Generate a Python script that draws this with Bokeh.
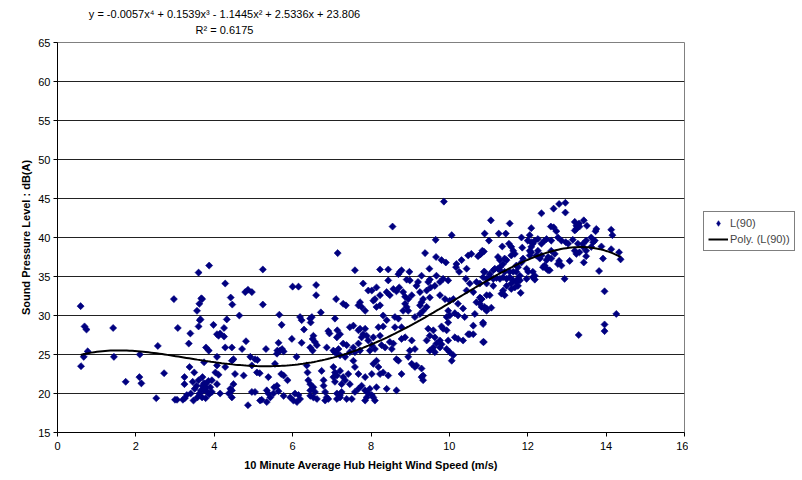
from bokeh.plotting import figure
from bokeh.layouts import row, column
from bokeh.models import Range1d, SingleIntervalTicker, Label, Legend, LegendItem, ColumnDataSource
from bokeh.embed import file_html
from bokeh.resources import INLINE
import numpy as np

# ---- data: (wind speed m/s, L90 dB(A)) ----
l90_points = [
    (0.59,31.2),(0.69,28.6),(0.74,28.2),(0.77,25.4),(0.67,24.7),(0.60,23.5),
    (1.42,28.4),(1.44,24.7),(1.74,21.5),(2.09,22.1),(2.14,21.3),(2.10,25.0),
    (2.56,26.1),(2.72,22.6),(2.52,19.4),(2.97,32.1),(3.07,28.4),
    (3.00,19.2),(3.05,19.2),(3.20,19.2),(3.25,19.4),(3.30,19.8),
    (3.39,27.7),(3.35,26.4),(3.60,35.5),(3.87,36.4),
    (3.67,32.2),(3.62,31.5),(3.56,30.6),(3.65,29.5),(3.63,29.4),(3.60,28.6),
    (3.79,25.9),(3.86,25.5),(3.74,24.0),(3.37,23.4),(3.49,22.7),(3.24,22.1),(3.24,21.2),
    (3.47,19.1),(3.57,19.5),(3.62,20.0),(3.66,20.4),(3.70,21.0),(3.74,21.3),(3.79,20.8),
    (3.83,20.2),(3.87,19.9),(3.60,21.7),(3.70,22.1),(3.78,19.4),(3.50,20.6),(3.55,21.0),
    (3.85,21.6),(3.40,20.0),(3.45,21.5),(3.69,32.1),(3.77,21.2),(3.73,20.4),(3.69,19.5),
    (3.98,28.8),(4.07,27.6),(4.11,27.4),(4.15,27.7),(4.25,28.4),(4.25,27.3),(4.28,34.1),
    (4.32,29.5),(4.42,32.3),(4.46,31.4),(4.64,30.0),(4.79,33.0),(4.86,33.3),(4.96,33.0),
    (5.24,35.9),(5.24,31.4),(4.07,24.7),(4.07,23.6),(4.03,22.7),(4.11,22.4),(4.07,21.2),
    (3.94,21.7),(3.90,20.8),(3.94,20.2),(4.28,25.9),(4.28,23.4),(4.45,25.9),(4.45,24.2),
    (4.49,24.4),(4.53,22.5),(4.15,20.0),(4.41,20.6),(4.45,20.4),(4.49,21.2),(4.45,19.5),
    (4.37,20.0),(4.75,22.3),(4.71,25.7),(4.81,26.7),(4.92,24.7),(5.04,24.4),(5.10,24.3),
    (4.96,23.6),(5.09,22.7),(5.16,22.6),(4.86,18.5),(4.96,20.2),(5.04,20.2),(5.17,19.1),
    (5.21,19.2),(5.34,18.9),(5.38,20.0),(5.43,19.5),(5.34,20.4),(5.32,25.7),(5.38,22.1),
    (5.53,20.8),(5.60,21.0),(5.64,20.3),(5.51,20.0),(5.55,23.8),(5.60,25.1),(5.61,25.5),
    (5.68,25.5),(5.73,25.7),(5.77,25.4),(5.64,26.5),(5.66,30.1),(5.72,28.8),(5.71,22.5),
    (5.77,22.3),(5.87,21.7),(5.77,19.7),(5.94,19.5),(6.02,19.1),(6.06,20.0),(6.15,19.8),
    (6.19,19.3),(6.11,18.9),(5.98,27.0),(6.00,33.7),(6.15,33.7),(6.10,24.7),(6.19,29.8),
    (6.23,29.4),(6.23,26.5),(6.29,28.2),(6.36,23.6),(6.38,22.7),(6.40,21.7),(6.45,21.2),
    (6.45,20.4),(6.45,19.7),(6.53,20.8),(6.57,20.2),(6.53,19.5),(6.62,19.3),(6.45,29.6),
    (6.49,29.8),(6.46,29.1),(6.53,27.4),(6.51,27.0),(6.45,25.9),(6.51,25.5),(6.57,26.6),
    (6.62,26.2),(6.60,33.9),(6.60,32.6),(6.72,30.4),(6.74,22.9),(6.79,21.7),(6.79,21.0),
    (6.83,20.2),(6.87,19.5),(6.91,19.3),(6.83,19.1),(6.87,25.9),(6.94,27.7),(6.91,28.0),
    (7.08,29.6),(7.11,32.1),(7.15,38.0),(7.13,27.2),(7.14,28.1),(7.04,25.5),(7.08,25.3),
    (7.13,25.1),(7.17,25.7),(7.21,24.9),(7.04,23.4),(7.08,22.7),(7.04,22.1),(7.08,21.5),
    (7.13,22.3),(7.13,20.0),(7.13,19.3),(7.21,19.8),(7.25,20.2),
    (8.55,41.4),(9.65,39.7),(10.06,40.3),(9.86,44.6),
    (9.38,38.0),(9.66,37.5),(9.80,37.1),(9.91,36.8),(10.18,36.6),(10.17,36.2),(10.31,37.1),
    (10.48,37.7),(10.56,37.9),(10.73,37.6),(10.82,38.0),(10.88,38.2),(9.49,36.0),(10.44,36.0),
    (10.25,35.6),(7.59,35.8),(8.23,35.9),(8.44,35.9),(8.70,35.3),(8.74,35.6),(8.78,35.8),
    (8.98,35.6),(9.29,35.1),(9.67,35.1),(10.88,35.6),(7.80,34.1),(8.44,34.5),(8.91,34.6),
    (8.99,34.5),(9.20,34.3),(9.16,33.8),(9.46,34.3),(9.50,34.6),(9.76,34.3),(9.84,34.7),
    (9.97,34.5),(9.52,33.6),(9.42,33.2),(9.63,33.8),(10.42,34.7),(10.52,34.1),(10.69,34.3),
    (10.95,34.1),(7.93,33.2),(8.02,33.2),(8.14,33.6),(8.23,32.6),(8.06,31.9),(8.10,32.1),
    (8.40,33.0),(8.48,32.6),(8.57,33.4),(8.65,33.1),(8.72,33.6),(8.82,33.0),(8.87,32.4),
    (8.95,32.1),(9.04,32.6),(9.25,33.0),(9.33,32.1),(9.50,32.3),(9.29,31.7),(9.76,32.6),
    (9.89,32.1),(10.01,31.9),(10.10,32.1),(10.22,31.5),(10.44,33.2),(10.61,33.0),(10.78,32.3),
    (10.82,32.1),(10.69,31.7),(10.90,31.1),(10.95,30.9),(7.72,31.7),(7.68,31.3),(7.76,31.1),
    (7.85,30.6),(7.29,31.5),(7.36,31.3),(8.23,31.3),(8.14,31.1),(8.87,31.5),(8.91,31.1),
    (8.82,30.6),(8.95,30.6),(9.25,31.3),(9.33,30.6),(9.42,31.1),(8.31,30.0),(8.61,29.8),
    (8.70,29.6),(8.40,29.4),(8.19,28.5),(8.31,28.6),(9.25,30.2),(9.12,29.8),(8.78,28.5),
    (8.61,28.5),(9.93,29.8),(10.01,30.0),(9.97,30.6),(10.14,30.3),(10.22,30.0),(10.35,30.9),
    (10.39,29.8),(10.65,30.2),(10.86,29.1),(9.46,28.3),(9.59,28.1),(9.84,28.3),(9.93,28.1),
    (9.97,29.1),(9.80,28.6),(10.52,27.6),(10.61,27.6),(10.61,28.7),(7.46,28.5),(7.55,28.7),
    (7.72,28.3),(7.85,28.3),(7.68,28.1),(7.80,27.6),(7.89,27.4),(7.76,27.2),(7.93,26.8),
    (8.02,26.2),(8.06,27.2),(8.10,25.7),(7.97,25.5),(8.27,26.2),(8.36,25.9),(8.23,27.4),
    (8.48,26.6),(8.53,25.7),(8.57,26.4),(8.78,27.0),(8.87,27.2),(9.04,26.8),(8.99,25.5),
    (9.12,25.7),(7.21,27.6),(7.29,26.4),(7.38,26.2),(7.55,25.9),(7.68,26.4),(7.46,25.3),
    (7.59,25.3),(7.72,25.5),(9.42,26.8),(9.50,27.4),(9.63,27.2),(9.67,26.4),(9.59,25.9),
    (9.50,25.5),(9.63,25.3),(9.76,25.9),(9.80,26.3),(9.76,26.8),(9.93,25.7),(10.01,25.3),
    (9.97,26.8),(10.22,27.0),(10.14,27.2),(10.35,26.8),(10.48,27.6),(10.86,26.6),
    (7.34,24.7),(7.55,24.2),(7.42,22.5),(7.59,23.4),(7.68,22.5),(7.85,22.1),(8.02,22.5),
    (8.06,23.8),(8.14,24.2),(8.19,23.4),(8.23,22.5),(8.31,22.7),(8.44,22.3),(8.65,24.4),
    (8.70,24.2),(8.78,22.5),(8.95,24.7),(9.04,23.8),(9.12,23.4),(9.16,23.6),(9.29,23.2),
    (9.29,22.1),(9.33,21.7),(9.33,22.3),(10.10,24.9),(10.06,24.2),(7.21,22.9),(7.29,22.1),
    (7.34,21.7),(7.21,19.5),(7.38,19.3),(7.51,19.3),(7.59,20.2),(7.68,20.6),(7.76,21.0),
    (7.85,20.4),(7.89,19.5),(7.85,19.1),(7.93,20.0),(8.02,19.8),(8.06,19.5),(8.10,19.1),
    (7.97,20.6),(8.14,20.8),(8.40,20.6),(8.65,20.4),(7.25,21.2),(7.46,21.2),
    (11.06,42.2),(10.90,40.5),(11.01,39.6),(11.26,40.5),(11.44,40.5),(11.54,41.8),(12.35,43.1),
    (12.66,43.7),(12.80,44.3),(12.96,44.45),(12.96,43.2),(12.59,41.4),(12.66,41.3),(12.73,40.8),
    (12.09,41.2),(11.84,40.0),(12.05,40.3),(10.84,38.3),(10.78,37.8),(11.35,38.85),(11.52,39.2),
    (11.58,38.8),(11.63,38.3),(11.58,37.7),(11.67,37.9),(11.86,38.7),(12.00,39.6),(12.09,39.4),
    (12.13,39.2),(12.05,38.3),(12.09,38.8),(12.26,39.8),(12.18,39.6),(12.43,39.6),(12.35,39.2),
    (12.48,39.8),(12.60,39.6),(12.77,40.0),(12.86,39.6),(12.97,39.4),(13.03,39.2),(13.20,42.0),
    (13.24,41.5),(13.31,41.8),(13.24,41.1),(13.20,40.9),(13.43,42.2),(13.51,41.5),(13.32,41.4),
    (13.15,39.7),(13.28,39.2),(13.41,39.2),(13.49,39.6),(13.62,40.0),(13.71,39.6),(13.67,39.4),
    (13.75,41.1),(13.73,40.8),(14.13,41.0),(14.16,40.3),(13.20,38.3),(13.24,37.9),(13.32,38.1),
    (13.41,38.8),(13.49,38.3),(13.62,38.8),(13.88,38.85),(14.13,38.5),(14.33,38.1),(14.37,37.2),
    (13.92,37.3),(13.49,37.6),(13.43,36.8),(13.82,35.7),(12.94,34.7),(13.07,37.0),(12.80,37.0),
    (12.77,36.6),(12.86,36.4),(12.60,38.3),(12.69,37.9),(12.52,37.5),(12.60,37.3),(12.48,37.1),
    (12.43,36.4),(12.39,36.2),(12.48,36.0),(12.52,35.8),(12.31,37.3),(12.35,37.7),(12.13,35.6),
    (12.18,35.1),(11.97,36.0),(12.01,35.6),(11.75,36.2),(11.71,35.6),(11.80,35.1),(11.41,35.6),
    (11.29,36.2),(11.24,36.0),(11.37,36.6),(11.16,36.0),(11.12,35.8),(11.03,35.3),(10.90,35.6),
    (11.29,37.1),(11.24,37.5),(11.46,37.1),(11.41,37.3),(11.88,37.3),(12.05,37.7),(12.09,38.1),
    (12.22,37.7),(12.26,38.3),(11.84,36.8),(11.71,36.4),(11.54,35.6),(11.63,35.6),(11.75,34.7),
    (11.97,34.7),(12.13,34.9),(12.18,34.6),(12.56,35.8),(11.29,35.8),
    (10.78,34.1),(10.86,34.9),(10.95,34.7),(11.03,34.9),(11.12,34.7),(11.20,34.8),(11.29,34.7),
    (11.37,34.9),(11.46,34.7),(11.54,34.9),(11.58,34.1),(11.63,34.5),(11.71,34.3),(11.80,34.5),
    (11.75,33.8),(11.67,33.6),(11.58,33.4),(11.37,33.2),(11.41,32.6),(11.33,32.8),(11.46,33.8),
    (11.12,33.8),(11.03,32.6),(10.95,32.6),(10.82,32.1),(10.78,31.5),(10.82,31.1),(10.90,30.9),
    (10.95,30.6),(11.07,31.0),(11.82,32.9),(13.96,33.1),(14.26,30.2),(10.86,28.9),(13.96,28.85),
    (13.96,28.0),(13.30,27.5),(10.88,26.6),
]
wind_speed = [p[0] for p in l90_points]
l90_db = [p[1] for p in l90_points]

# 4th-order polynomial trendline coefficients as printed on the chart (x^4 .. x^0)
trend_coeffs = [-0.0057, 0.1539, -1.1445, 2.5336, 23.806]
trend_label = "y = -0.0057x\u2074 + 0.1539x\u00b3 - 1.1445x\u00b2 + 2.5336x + 23.806"
r2_label = "R\u00b2 = 0.6175"
series_labels = ["L(90)", "Poly. (L(90))"]

x_ticks_interval = 2
y_ticks_interval = 5

FONT = "Liberation Sans"
FS = "11px"
MARK = "#000080"

# ---- strip above the plot carrying the trendline equation ----
top = figure(width=798, height=36, output_backend="svg", toolbar_location=None,
             x_axis_type=None, y_axis_type=None, min_border=0,
             x_range=Range1d(0, 798), y_range=Range1d(0, 36))
top.outline_line_color = None
top.grid.visible = False
top.add_layout(Label(x=224, y=22.5, text=trend_label, text_align="center", text_baseline="middle",
                     text_font=FONT, text_font_size=FS, text_color="black"))
top.add_layout(Label(x=224, y=7, text=r2_label, text_align="center", text_baseline="middle",
                     text_font=FONT, text_font_size=FS, text_color="black"))

# ---- main scatter plot ----
p = figure(frame_width=627, frame_height=390, output_backend="svg", toolbar_location=None,
           x_range=Range1d(0, 16), y_range=Range1d(15, 65),
           min_border_left=57, min_border_right=4, min_border_top=6, min_border_bottom=44)
p.background_fill_color = "white"
p.border_fill_color = "white"
p.outline_line_color = "#808080"
p.outline_line_width = 1

p.xaxis.ticker = SingleIntervalTicker(interval=x_ticks_interval)
p.yaxis.ticker = SingleIntervalTicker(interval=y_ticks_interval)
p.xgrid.visible = False
p.ygrid.ticker = SingleIntervalTicker(interval=y_ticks_interval)
p.ygrid.grid_line_color = "#222222"
p.ygrid.grid_line_width = 1

for ax in (p.xaxis[0], p.yaxis[0]):
    ax.axis_line_color = "black"
    ax.major_tick_line_color = "black"
    ax.minor_tick_line_color = None
    ax.major_tick_in = 0
    ax.major_tick_out = 4
    ax.major_label_text_font = FONT
    ax.major_label_text_font_size = FS
    ax.major_label_text_color = "black"
    ax.axis_label_text_font = FONT
    ax.axis_label_text_font_size = FS
    ax.axis_label_text_font_style = "bold"
    ax.axis_label_text_color = "black"

p.xaxis.axis_label = "10 Minute Average Hub Height Wind Speed (m/s)"
p.yaxis.axis_label = "Sound Pressure Level : dB(A)"
p.xaxis.major_label_standoff = 5
p.xaxis.axis_label_standoff = 6
p.yaxis.major_label_standoff = 3
p.yaxis.axis_label_standoff = 3

src = ColumnDataSource(dict(x=wind_speed, y=l90_db))
pts = p.scatter("x", "y", source=src, marker="square", angle=np.pi / 4, size=5,
                fill_color=MARK, line_color=MARK, line_width=0.6)

xs = np.linspace(min(wind_speed), max(wind_speed), 200)
ys = np.polyval(trend_coeffs, xs)
trend = p.line(xs, ys, line_color="black", line_width=2)

# ---- legend panel to the right of the plot area ----
lf = figure(width=110, height=440, output_backend="svg", toolbar_location=None,
            x_axis_type=None, y_axis_type=None, min_border=0,
            x_range=Range1d(0, 1), y_range=Range1d(0, 1))
lf.outline_line_color = None
lf.grid.visible = False
lf.background_fill_color = "white"
lf.border_fill_color = "white"
# legend sample glyphs (kept outside the visible range, only their legend swatches show)
lg_pts = lf.scatter(x=[-5], y=[-5], marker="diamond", size=9,
                    fill_color=MARK, line_color=MARK, line_width=0.6)
lg_line = lf.line(x=[-5, -4], y=[-5, -4], line_color="black", line_width=2)

legend = Legend(items=[LegendItem(label=series_labels[0], renderers=[lg_pts]),
                       LegendItem(label=series_labels[1], renderers=[lg_line])],
                location=(15, 181))
legend.border_line_color = "black"
legend.border_line_width = 1
legend.background_fill_color = "white"
legend.label_text_font = FONT
legend.label_text_font_size = FS
legend.glyph_width = 20
legend.glyph_height = 14
legend.label_standoff = 2
legend.spacing = 2
legend.padding = 4
legend.margin = 0
legend.label_height = 14
lf.add_layout(legend, "center")

layout = column(top, row(p, lf, spacing=0), spacing=0)
open("out.html", "w").write(file_html(layout, INLINE))
